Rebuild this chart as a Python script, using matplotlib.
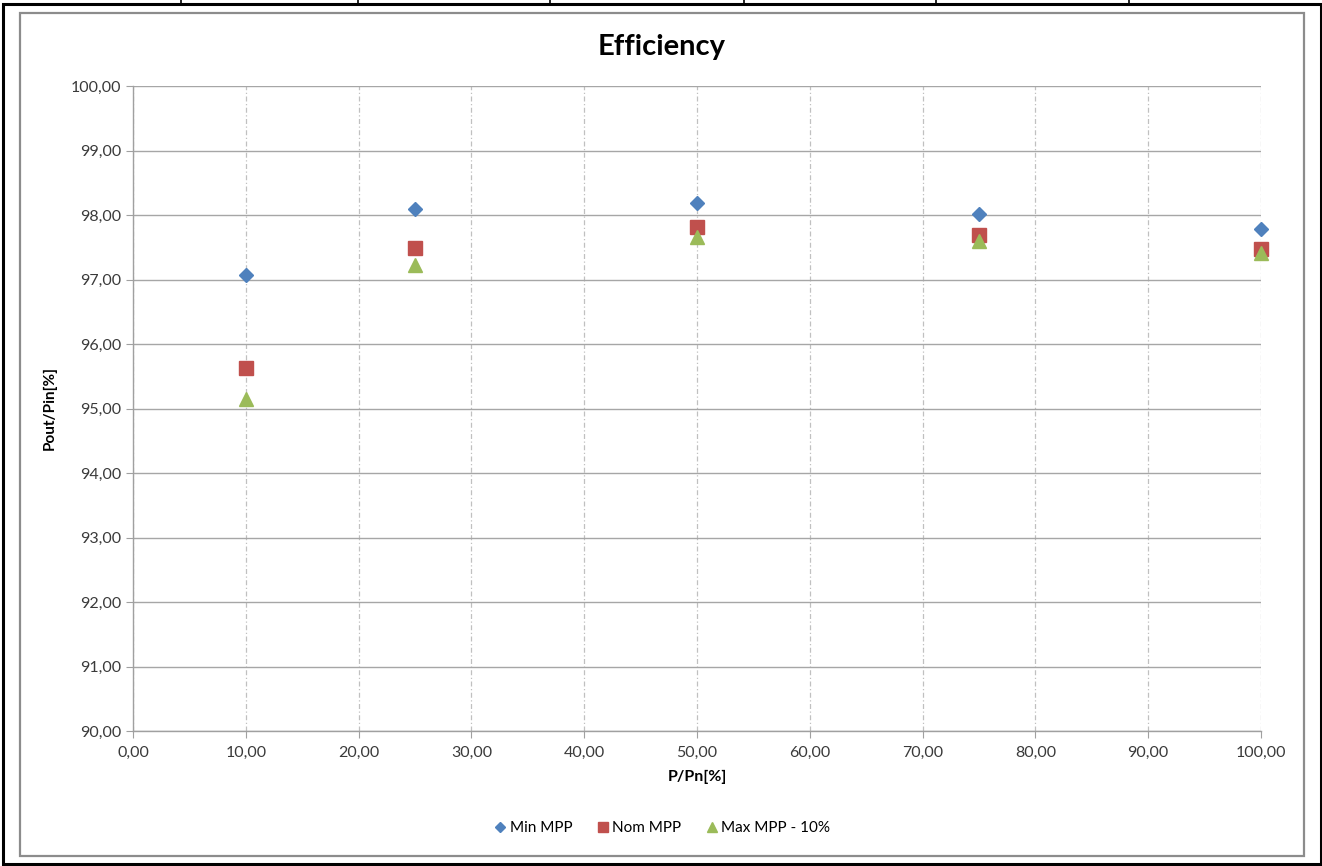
import matplotlib
matplotlib.use("Agg")
import matplotlib.pyplot as plt
from matplotlib.patches import Rectangle
from matplotlib.lines import Line2D
from matplotlib.ticker import FuncFormatter, MultipleLocator

plt.rcParams['font.family'] = ['Lato', 'DejaVu Sans']

# load points in % of nominal power
load = [10, 25, 50, 75, 100]
min_mpp = [97.07, 98.09, 98.19, 98.02, 97.78]
nom_mpp = [95.63, 97.49, 97.81, 97.69, 97.47]
max_mpp = [95.15, 97.22, 97.66, 97.60, 97.41]

W, H = 1322, 866
fig = plt.figure(figsize=(W / 100, H / 100), dpi=100)

# spreadsheet cell border + chart area frame
fig.add_artist(Rectangle((3 / W, 1 - 864 / H), 1318 / W, 860 / H, transform=fig.transFigure,
                         fill=False, edgecolor="black", linewidth=2.2))
for xc in [181, 358, 550, 744, 936, 1129]:
    fig.add_artist(Line2D([xc / W, xc / W], [1 - 4 / H, 1], transform=fig.transFigure,
                          color="black", linewidth=1.2))
fig.add_artist(Rectangle((20 / W, 1 - 856 / H), 1284 / W, 843 / H, transform=fig.transFigure,
                         fill=False, edgecolor="#8c8c8c", linewidth=1.6))

ax = fig.add_axes([133 / W, 1 - 731 / H, 1128 / W, 645 / H])
ax.set_xlim(0, 100)
ax.set_ylim(90, 100)
ax.xaxis.set_major_locator(MultipleLocator(10))
ax.yaxis.set_major_locator(MultipleLocator(1))
comma = FuncFormatter(lambda v, _: f"{v:.2f}".replace(".", ","))
ax.xaxis.set_major_formatter(comma)
ax.yaxis.set_major_formatter(comma)

ax.grid(axis="y", color="#a6a6a6", linewidth=1.0, linestyle="-")
ax.grid(axis="x", color="#c0c0c0", linewidth=0.9, linestyle=(0, (4, 2, 1, 2)))
ax.set_axisbelow(True)
for side in ["top", "right"]:
    ax.spines[side].set_visible(False)
for side in ["left", "bottom"]:
    ax.spines[side].set_color("#a0a0a0")
    ax.spines[side].set_linewidth(1.0)
ax.tick_params(axis="both", colors="#a0a0a0", labelcolor="#3a3a3a", labelsize=11.5, length=5)
ax.tick_params(axis="x", pad=6)

ax.plot(load, min_mpp, linestyle="none", marker="D", markersize=7.5, color="#4f81bd",
        markeredgecolor="#4f81bd", label="Min MPP", clip_on=False)
ax.plot(load, nom_mpp, linestyle="none", marker="s", markersize=10, color="#c0504d",
        markeredgecolor="#c0504d", label="Nom MPP", clip_on=False)
ax.plot(load, max_mpp, linestyle="none", marker="^", markersize=10.5, color="#9bbb59",
        markeredgecolor="#9bbb59", label="Max MPP - 10%", clip_on=False)

fig.text(662 / W, 1 - 47 / H, "Efficiency", ha="center", va="center", fontsize=21,
         fontweight="bold", color="black")
ax.set_xlabel("P/Pn[%]", fontsize=11.5, fontweight="bold", labelpad=7)
ax.set_ylabel("Pout/Pin[%]", fontsize=11, fontweight="bold", labelpad=10)

fig.legend(loc="center", bbox_to_anchor=(662 / W, 1 - 828 / H), ncol=3, frameon=False,
           fontsize=11, markerscale=0.65, handlelength=0.8, handletextpad=0.2,
           columnspacing=1.6)

fig.savefig("out.png", dpi=100)
